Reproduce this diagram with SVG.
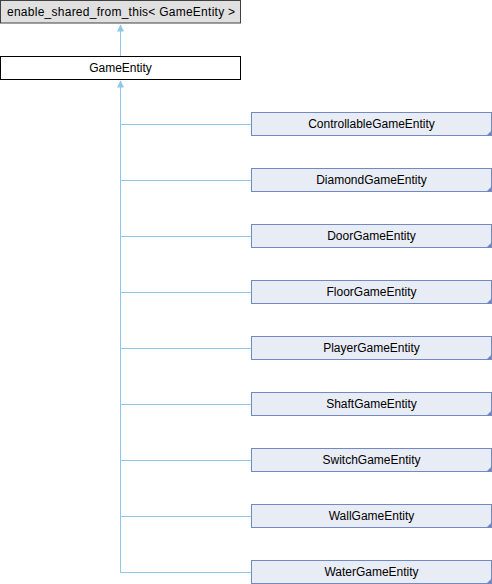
<svg xmlns="http://www.w3.org/2000/svg" width="492" height="584" viewBox="0 0 492 584">
<style>
text{font-family:"Liberation Sans",Arial,sans-serif;font-size:12px;text-anchor:middle;fill:#000}
.base{fill:#E0E0E0;stroke:#404040;stroke-width:1}
.main{fill:#FFFFFF;stroke:#000000;stroke-width:1}
.child{fill:#E8ECF5;stroke:#7389C4;stroke-width:1}
.corner{fill:#7389C4}
.edge{fill:none;stroke:#8DC8EA;stroke-width:1}
.head{fill:#8DC8EA}
</style>
<g id="connectors">
<path class="edge" d="M120.5,25 V56"/>
<path class="head" d="M120.5,24.5 L117,31.5 L124,31.5 Z"/>
<path class="edge" d="M120.5,81 V572.5"/>
<path class="head" d="M120.5,80.5 L117,87.5 L124,87.5 Z"/>
<path class="edge" d="M120.5,124.5 H251 M120.5,180.5 H251 M120.5,236.5 H251 M120.5,292.5 H251 M120.5,348.5 H251 M120.5,404.5 H251 M120.5,460.5 H251 M120.5,516.5 H251 M120.5,572.5 H251"/>
</g>
<g id="enable_shared_from_this">
<rect class="base" x="0.5" y="0.5" width="240" height="22.5"/>
<text x="121" y="16" textLength="228" lengthAdjust="spacing">enable_shared_from_this&lt; GameEntity &gt;</text>
</g>
<g id="GameEntity">
<rect class="main" x="0.5" y="56.5" width="240" height="23"/>
<text x="120.5" y="72">GameEntity</text>
</g>
<g id="ControllableGameEntity">
<rect class="child" x="251.5" y="112.5" width="240" height="23"/>
<path class="corner" d="M491,131 L491,136 L486,136 Z"/>
<text x="371.5" y="128">ControllableGameEntity</text>
</g>
<g id="DiamondGameEntity">
<rect class="child" x="251.5" y="168.5" width="240" height="23"/>
<path class="corner" d="M491,187 L491,192 L486,192 Z"/>
<text x="371.5" y="184">DiamondGameEntity</text>
</g>
<g id="DoorGameEntity">
<rect class="child" x="251.5" y="224.5" width="240" height="23"/>
<path class="corner" d="M491,243 L491,248 L486,248 Z"/>
<text x="371.5" y="240">DoorGameEntity</text>
</g>
<g id="FloorGameEntity">
<rect class="child" x="251.5" y="280.5" width="240" height="23"/>
<path class="corner" d="M491,299 L491,304 L486,304 Z"/>
<text x="371.5" y="296">FloorGameEntity</text>
</g>
<g id="PlayerGameEntity">
<rect class="child" x="251.5" y="336.5" width="240" height="23"/>
<path class="corner" d="M491,355 L491,360 L486,360 Z"/>
<text x="371.5" y="352">PlayerGameEntity</text>
</g>
<g id="ShaftGameEntity">
<rect class="child" x="251.5" y="392.5" width="240" height="23"/>
<path class="corner" d="M491,411 L491,416 L486,416 Z"/>
<text x="371.5" y="408">ShaftGameEntity</text>
</g>
<g id="SwitchGameEntity">
<rect class="child" x="251.5" y="448.5" width="240" height="23"/>
<path class="corner" d="M491,467 L491,472 L486,472 Z"/>
<text x="371.5" y="464">SwitchGameEntity</text>
</g>
<g id="WallGameEntity">
<rect class="child" x="251.5" y="504.5" width="240" height="23"/>
<path class="corner" d="M491,523 L491,528 L486,528 Z"/>
<text x="371.5" y="520">WallGameEntity</text>
</g>
<g id="WaterGameEntity">
<rect class="child" x="251.5" y="560.5" width="240" height="23"/>
<path class="corner" d="M491,579 L491,584 L486,584 Z"/>
<text x="371.5" y="576">WaterGameEntity</text>
</g>
</svg>
